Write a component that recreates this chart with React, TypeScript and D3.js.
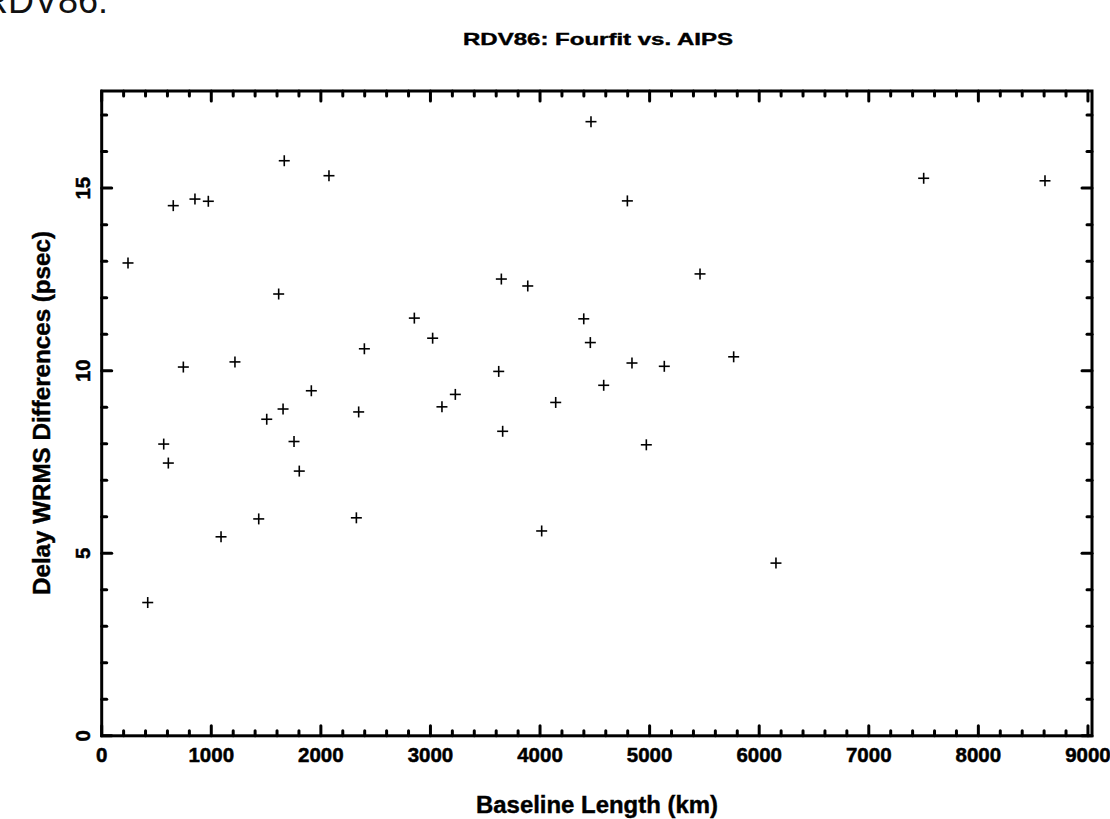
import React from "react";
import * as d3 from "d3";

const baselineKm = [
  1666, 2074, 653, 851, 973, 240, 1615, 2853, 3020, 2397, 745, 1216, 1913, 1655, 1506,
  2345, 566, 1755, 608, 1803, 1433, 2324, 1089, 420, 4465, 4797, 3647, 3888, 5460, 4399,
  4459, 4839, 5134, 5767, 3623, 4581, 3227, 3105, 4143, 3659, 4970, 4015, 7501, 8608, 6153,
];
const wrmsPsec = [
  15.75, 15.34, 14.52, 14.7, 14.64, 12.95, 12.1, 11.44, 10.89, 10.6, 10.1, 10.24, 9.45, 8.95, 8.67,
  8.87, 7.99, 8.06, 7.47, 7.25, 5.94, 5.97, 5.45, 3.65, 16.82, 14.65, 12.51, 12.32, 12.65, 11.42,
  10.77, 10.21, 10.12, 10.38, 9.98, 9.6, 9.35, 9.01, 9.13, 8.34, 7.97, 5.61, 15.27, 15.2, 4.73,
];
const xMajorTicks = [0, 1000, 2000, 3000, 4000, 5000, 6000, 7000, 8000, 9000];
const yMajorTicks = [0, 5, 10, 15];
const titleText = "RDV86: Fourfit vs. AIPS";
const xLabel = "Baseline Length (km)";
const yLabel = "Delay WRMS Differences (psec)";

const W = 1110;
const H = 819;
const L = 101.7, R = 1092, T = 91, B = 735.8;

export default function App() {
  const x = d3.scaleLinear().domain([0, 9037]).range([L, R]);
  const y = d3.scaleLinear().domain([0, 17.66]).range([B, T]);
  const xMinor = d3.range(0, 9001, 200).filter((v) => v % 1000 !== 0);
  const yMinor = d3.range(0, 18, 1).filter((v) => v % 5 !== 0);
  const font = "'Liberation Sans', Arial, Helvetica, sans-serif";
  const maj = 10, mnr = 5;
  const s = 5.5;

  return (
    <svg
      width={W}
      height={H}
      style={{ position: "absolute", left: 0, top: 0, background: "#fff", overflow: "hidden" }}
    >
      <text x={-18} y={13} fontFamily={font} fontSize={36} fill="#111">RDV86:</text>
      <text
        x={598}
        y={45}
        textAnchor="middle"
        fontFamily={font}
        fontWeight="bold"
        fontSize={17}
        stroke="#000"
        strokeWidth={0.4}
        textLength={270}
        lengthAdjust="spacingAndGlyphs"
      >
        {titleText}
      </text>

      <g stroke="#000" strokeWidth={3} strokeLinecap="round">
        {xMajorTicks.map((v) => (
          <g key={"xm" + v}>
            <line x1={x(v)} x2={x(v)} y1={B} y2={B - maj} />
            <line x1={x(v)} x2={x(v)} y1={T} y2={T + maj} />
          </g>
        ))}
        {xMinor.map((v) => (
          <g key={"xn" + v}>
            <line x1={x(v)} x2={x(v)} y1={B} y2={B - mnr} />
            <line x1={x(v)} x2={x(v)} y1={T} y2={T + mnr} />
          </g>
        ))}
        {yMajorTicks.map((v) => (
          <g key={"ym" + v}>
            <line x1={L} x2={L + maj} y1={y(v)} y2={y(v)} />
            <line x1={R} x2={R - maj} y1={y(v)} y2={y(v)} />
          </g>
        ))}
        {yMinor.map((v) => (
          <g key={"yn" + v}>
            <line x1={L} x2={L + mnr} y1={y(v)} y2={y(v)} />
            <line x1={R} x2={R - mnr} y1={y(v)} y2={y(v)} />
          </g>
        ))}
      </g>
      <rect x={L} y={T} width={R - L} height={B - T} fill="none" stroke="#000" strokeWidth={3} />

      <g fontFamily={font} fontWeight="bold" fontSize={20.5} fill="#000" stroke="#000" strokeWidth={0.5}>
        {xMajorTicks.map((v) => (
          <text key={"xl" + v} x={x(v)} y={761.5} textAnchor="middle">
            {String(v)}
          </text>
        ))}
        {yMajorTicks.map((v) => (
          <text
            key={"yl" + v}
            transform={`translate(90,${y(v)}) rotate(-90)`}
            textAnchor="middle"
          >
            {String(v)}
          </text>
        ))}
      </g>

      <text
        x={597}
        y={813}
        textAnchor="middle"
        fontFamily={font}
        fontWeight="bold"
        fontSize={23}
        stroke="#000"
        strokeWidth={0.4}
        textLength={242}
        lengthAdjust="spacingAndGlyphs"
      >
        {xLabel}
      </text>
      <text
        transform={`translate(50,413) rotate(-90)`}
        textAnchor="middle"
        fontFamily={font}
        fontWeight="bold"
        fontSize={23}
        stroke="#000"
        strokeWidth={0.4}
        textLength={364}
        lengthAdjust="spacingAndGlyphs"
      >
        {yLabel}
      </text>

      <g stroke="#000" strokeWidth={1.6}>
        {baselineKm.map((bx, i) => {
          const px = x(bx);
          const py = y(wrmsPsec[i]);
          return (
            <g key={"p" + i}>
              <line x1={px - s} x2={px + s} y1={py} y2={py} />
              <line x1={px} x2={px} y1={py - s} y2={py + s} />
            </g>
          );
        })}
      </g>
    </svg>
  );
}
